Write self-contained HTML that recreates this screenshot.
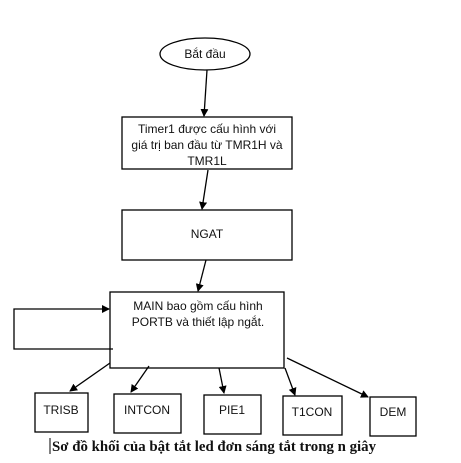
<!DOCTYPE html>
<html><head><meta charset="utf-8"><style>
body{margin:0;background:#fff;width:461px;height:458px;overflow:hidden}
svg text{font-family:"Liberation Sans",sans-serif;font-size:12px;fill:#111}
</style></head><body>
<svg width="461" height="458" viewBox="0 0 461 458">
<defs><marker id="a" markerWidth="8" markerHeight="8" refX="7" refY="4" orient="auto" markerUnits="userSpaceOnUse"><path d="M0,0 L8,4 L0,8 z" fill="#000"/></marker></defs>
<g stroke="#000" stroke-width="1.3" fill="none">
<ellipse cx="205" cy="54" rx="45" ry="16"/>
<rect x="122" y="117" width="170" height="52"/>
<rect x="122" y="210" width="170" height="50"/>
<rect x="110" y="292" width="174" height="76"/>
<rect x="35" y="393" width="53" height="39"/>
<rect x="114" y="394" width="67" height="39"/>
<rect x="204" y="395" width="57" height="39"/>
<rect x="283" y="396" width="59" height="39"/>
<rect x="370" y="397" width="46" height="39"/>
<line x1="207" y1="70" x2="204" y2="116" marker-end="url(#a)"/>
<line x1="208" y1="170" x2="202" y2="209" marker-end="url(#a)"/>
<line x1="206" y1="260" x2="198" y2="291" marker-end="url(#a)"/>
<polyline points="113,349 14,349 14,309 109,309" marker-end="url(#a)"/>
<line x1="110" y1="363" x2="70" y2="391" marker-end="url(#a)"/>
<line x1="149" y1="366" x2="131" y2="392" marker-end="url(#a)"/>
<line x1="219" y1="368" x2="224" y2="393" marker-end="url(#a)"/>
<line x1="285" y1="368" x2="295" y2="395" marker-end="url(#a)"/>
<line x1="287" y1="358" x2="368" y2="397" marker-end="url(#a)"/>
<line x1="50" y1="438" x2="50" y2="454" stroke-width="1"/>
</g>
<text x="205" y="58" text-anchor="middle">Bắt đầu</text>
<text x="207" y="133" text-anchor="middle">Timer1 được cấu hình với</text>
<text x="207" y="149" text-anchor="middle">giá trị ban đầu từ TMR1H và</text>
<text x="207" y="165" text-anchor="middle">TMR1L</text>
<text x="207" y="238" text-anchor="middle">NGAT</text>
<text x="198" y="310" text-anchor="middle">MAIN bao gồm cấu hình</text>
<text x="198" y="326" text-anchor="middle">PORTB và thiết lập ngắt.</text>
<text x="61" y="414" text-anchor="middle">TRISB</text>
<text x="147" y="414" text-anchor="middle">INTCON</text>
<text x="232" y="414" text-anchor="middle">PIE1</text>
<text x="312" y="416" text-anchor="middle">T1CON</text>
<text x="393" y="416" text-anchor="middle">DEM</text>
<text x="52" y="451" textLength="324" lengthAdjust="spacingAndGlyphs" style="font-family:'Liberation Serif',serif;font-weight:bold;font-size:15px">Sơ đồ khối của bật tắt led đơn sáng tắt trong n giây</text>
</svg>
</body></html>
